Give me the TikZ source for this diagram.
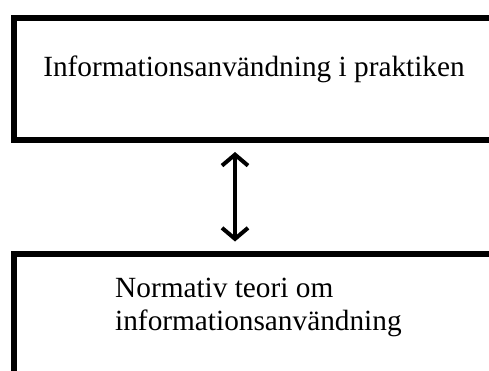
\documentclass[tikz,border=0pt]{standalone}
\usepackage{fontspec}
\setmainfont{Liberation Serif}
\usetikzlibrary{arrows.meta,positioning}
\tikzstyle{box}=[
  draw=black,
  line width=6pt,
  inner sep=0pt,
  anchor=north west,
]
\tikzstyle{arrow}=[
  draw=black,
  line width=4pt,
  shorten >=9pt,
  shorten <=9pt,
]
\tikzset{
  >={Straight Barb[length=11pt,width=26pt]},
  boxtext/.style={font=\fontsize{29.3pt}{33pt}\selectfont},
}

\begin{document}
\begin{tikzpicture}[x=1pt,y=1pt]
  \useasboundingbox (0,0) rectangle (489,370);
  \node[box, minimum width=485.5pt, minimum height=121.5pt] (praktik) at (10.5,354.5) {};
  \node[box, minimum width=485.5pt, minimum height=120.5pt] (teori) at (10.5,119.5) {};
  \node[boxtext, anchor=base] (praktiklabel) at (254,293) {Informationsanvändning i praktiken};
  \node[boxtext, anchor=base west, align=left, inner sep=0pt] (teorilabel) at (115,40)
    {Normativ teori om\\informationsanvändning};
  \draw[arrow,<->] (praktik.south -| 235,0) -- (teori.north -| 235,0);
\end{tikzpicture}
\end{document}
